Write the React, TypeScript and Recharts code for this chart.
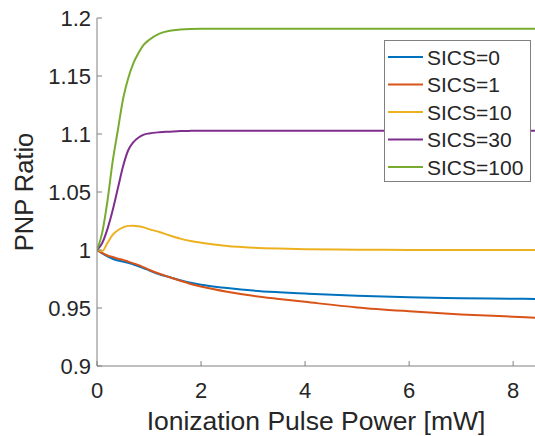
import { LineChart, Line, XAxis, YAxis } from "recharts"

const power = [0, 0.1, 0.2, 0.3, 0.4, 0.5, 0.6, 0.7, 0.8, 0.9, 1.0, 1.2, 1.4, 1.6, 1.8, 2.0, 2.5, 3, 3.5, 4, 5, 6, 7, 8, 8.42]

const sics0 = [1.0, 0.997, 0.9945, 0.9925, 0.991, 0.99, 0.989, 0.9875, 0.986, 0.9843, 0.9825, 0.979, 0.9765, 0.974, 0.9718, 0.97, 0.9672, 0.965, 0.9636, 0.9625, 0.9605, 0.9592, 0.9585, 0.958, 0.9578]
const sics1 = [1.0, 0.9975, 0.9953, 0.994, 0.9925, 0.9915, 0.99, 0.9885, 0.987, 0.985, 0.983, 0.9795, 0.9765, 0.9735, 0.9707, 0.9685, 0.964, 0.9605, 0.9578, 0.9553, 0.9505, 0.9472, 0.9445, 0.9425, 0.9417]
const sics10 = [1.0, 0.999, 1.006, 1.013, 1.017, 1.0195, 1.0208, 1.021, 1.0205, 1.0195, 1.018, 1.0155, 1.0125, 1.0098, 1.0078, 1.0063, 1.0035, 1.002, 1.0012, 1.0007, 1.0003, 1.0001, 1.0, 1.0, 1.0]
const sics30 = [1.0, 1.006, 1.018, 1.034, 1.053, 1.072, 1.086, 1.093, 1.097, 1.0995, 1.1005, 1.1015, 1.102, 1.1025, 1.1027, 1.1028, 1.1028, 1.1028, 1.1028, 1.1028, 1.1028, 1.1028, 1.1028, 1.1028, 1.1028]
const sics100 = [1.0, 1.015, 1.042, 1.076, 1.103, 1.13, 1.148, 1.161, 1.17, 1.177, 1.181, 1.1865, 1.189, 1.19, 1.1905, 1.1907, 1.1907, 1.1907, 1.1907, 1.1907, 1.1907, 1.1907, 1.1907, 1.1907, 1.1907]

const xTicks = [0, 2, 4, 6, 8]
const yTicks = [0.9, 0.95, 1, 1.05, 1.1, 1.15, 1.2]

const series = [
  { key: "s0", name: "SICS=0", color: "#0072BD", values: sics0 },
  { key: "s1", name: "SICS=1", color: "#D95319", values: sics1 },
  { key: "s10", name: "SICS=10", color: "#EDB120", values: sics10 },
  { key: "s30", name: "SICS=30", color: "#7E2F8E", values: sics30 },
  { key: "s100", name: "SICS=100", color: "#77AC30", values: sics100 },
]

const data = power.map((p, i) => {
  const row: Record<string, number> = { power: p }
  series.forEach((s) => (row[s.key] = s.values[i]))
  return row
})

const font = "'Liberation Sans', Arial, Helvetica, sans-serif"
const textColor = "#262626"
const axisColor = "#808080"

// legend drawn as an overlay so it doesn't eat into the plot area
function LegendBox() {
  return (
    <svg width={148} height={143} style={{ display: "block" }}>
      <rect x={0.5} y={0.5} width={146} height={141} fill="#fff" stroke={axisColor} strokeWidth={1} />
      {series.map((s, i) => {
        const cy = 17 + i * 27.5
        return (
          <g key={s.key}>
            <line x1={4} x2={39} y1={cy} y2={cy} stroke={s.color} strokeWidth={2} />
            <text x={43} y={cy} dy="0.36em" fontSize={21} fill={textColor} fontFamily={font}>
              {s.name}
            </text>
          </g>
        )
      })}
    </svg>
  )
}

export default function App() {
  return (
    <div style={{ position: "absolute", left: 0, top: 0, width: 535, height: 436, background: "#fff" }}>
      <LineChart width={535} height={436} data={data} margin={{ top: 18, right: 0, bottom: 0, left: 0 }}>
        <XAxis
          dataKey="power"
          type="number"
          domain={[0, 8.42]}
          ticks={xTicks}
          allowDataOverflow
          stroke={axisColor}
          tickSize={-5}
          tickMargin={21}
          height={70}
          tick={{ fill: textColor, fontSize: 22, fontFamily: font }}
          label={{
            value: "Ionization Pulse Power [mW]",
            position: "insideBottom",
            offset: 6,
            fill: textColor,
            fontSize: 26.5,
            fontFamily: font,
          }}
        />
        <YAxis
          type="number"
          domain={[0.9, 1.2]}
          ticks={yTicks}
          allowDataOverflow
          stroke={axisColor}
          tickSize={-5}
          tickMargin={11}
          width={97}
          tick={{ fill: textColor, fontSize: 22, fontFamily: font }}
          label={{
            value: "PNP Ratio",
            angle: -90,
            position: "insideLeft",
            offset: 24,
            fill: textColor,
            fontSize: 25.5,
            fontFamily: font,
            style: { textAnchor: "middle" },
          }}
        />
        {series.map((s) => (
          <Line
            key={s.key}
            dataKey={s.key}
            name={s.name}
            type="monotone"
            stroke={s.color}
            strokeWidth={2}
            dot={false}
            activeDot={false}
            isAnimationActive={false}
          />
        ))}
      </LineChart>
      <div style={{ position: "absolute", left: 384, top: 40 }}>
        <LegendBox />
      </div>
    </div>
  )
}
